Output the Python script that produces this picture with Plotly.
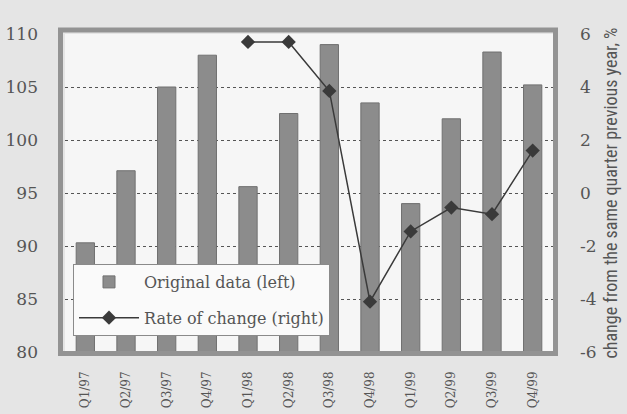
import plotly.graph_objects as go

quarters = ["Q1/97", "Q2/97", "Q3/97", "Q4/97", "Q1/98", "Q2/98", "Q3/98",
            "Q4/98", "Q1/99", "Q2/99", "Q3/99", "Q4/99"]
original = [90.3, 97.1, 105.0, 108.0, 95.6, 102.5, 109.0, 103.5, 94.0, 102.0, 108.3, 105.2]
rate_quarters = ["Q1/98", "Q2/98", "Q3/98", "Q4/98", "Q1/99", "Q2/99", "Q3/99", "Q4/99"]
rate = [5.7, 5.7, 3.85, -4.1, -1.45, -0.55, -0.8, 1.6]
left_ticks = [80, 85, 90, 95, 100, 105, 110]
right_ticks = [-6, -4, -2, 0, 2, 4, 6]
right_labels = ["-6", "-4", "-2", "0", "2", "4", "6"]

serif = "Century Schoolbook, DejaVu Serif, Liberation Serif, serif"
narrow = "Liberation Sans Narrow, Arial Narrow, Roboto Condensed, Roboto, sans-serif"

W, H = 627, 414
L, R, T, B = 65, 74, 34, 62
pw, ph = W - L - R, H - T - B

fig = go.Figure()
fig.add_trace(go.Bar(
    x=quarters, y=original, name="Original data (left)",
    marker=dict(color="#8c8c8c", line=dict(color="#707070", width=1)),
    width=0.45, yaxis="y", legendgroup="a",
))
fig.add_trace(go.Scatter(
    x=rate_quarters, y=rate, name="Rate of change (right)", yaxis="y2",
    mode="lines+markers", legendgroup="b",
    line=dict(color="#3a3a3a", width=1.5),
    marker=dict(symbol="diamond", size=11, color="#3a3a3a"),
))

fig.update_layout(
    width=W, height=H,
    margin=dict(l=L, r=R, t=T, b=B, autoexpand=False),
    paper_bgcolor="#e5e5e5",
    plot_bgcolor="#f6f6f6",
    font=dict(family=serif, color="#555555", size=14),
    showlegend=True,
    legend=dict(
        x=(73 - L) / pw, y=(H - B - 264) / ph, xanchor="left", yanchor="top",
        bgcolor="#fafafa", bordercolor="#8a8a8a", borderwidth=1,
        font=dict(family=serif, size=16, color="#555555"),
        tracegroupgap=12, itemwidth=60,
    ),
    xaxis=dict(
        type="category", range=[-0.5, 11.5], automargin=False,
        tickangle=-90, tickfont=dict(family=serif, size=12, color="#555555"),
        ticks="", showgrid=False, showline=False, ticklabelstandoff=16,
    ),
    yaxis=dict(
        range=[80, 110], tickvals=left_ticks, automargin=False,
        tickfont=dict(family=serif, size=17, color="#555555"),
        showgrid=True, gridcolor="#555555", griddash="dot", gridwidth=1,
        zeroline=False, showline=False, ticks="", ticklabelstandoff=26,
    ),
    yaxis2=dict(
        range=[-6, 6], tickvals=right_ticks, ticktext=right_labels,
        overlaying="y", side="right", automargin=False,
        tickfont=dict(family=serif, size=17, color="#555555"),
        showgrid=False, zeroline=False, showline=False, ticks="",
        ticklabelstandoff=26,
        title=dict(text="change from the same quarter previous year, %",
                   font=dict(family=narrow, size=18, color="#555555"),
                   standoff=8),
    ),
    shapes=[dict(
        type="rect", xref="paper", yref="paper",
        x0=-4.5 / pw, x1=1 + 2.5 / pw, y0=-1.5 / ph, y1=1 + 4 / ph,
        line=dict(color="#939393", width=5), layer="above",
    )],
)

fig.write_html("out.html", config={"displayModeBar": False},
               post_script="document.body.style.margin='0';")
